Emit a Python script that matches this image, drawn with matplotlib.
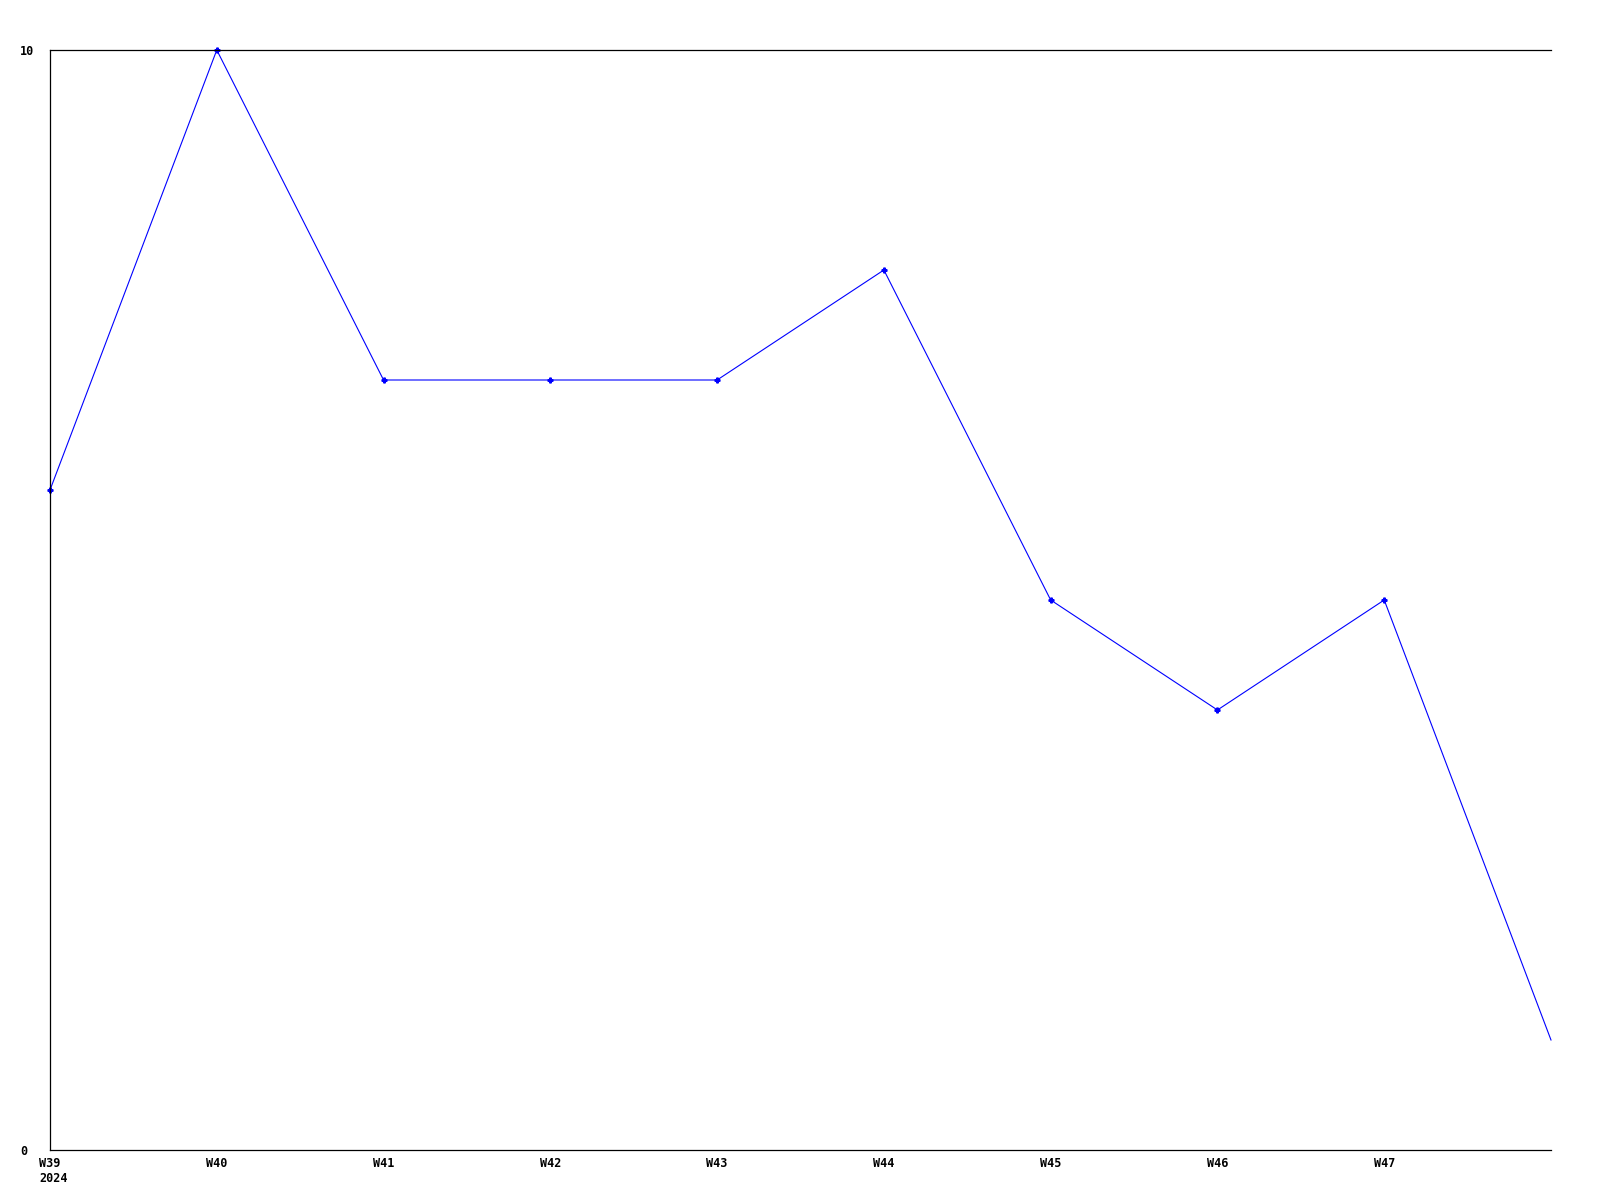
import matplotlib
matplotlib.use("Agg")
import matplotlib.pyplot as plt
from matplotlib.transforms import offset_copy

weeks = ["W39", "W40", "W41", "W42", "W43", "W44", "W45", "W46", "W47", "W48"]
values = [6, 10, 7, 7, 7, 8, 5, 4, 5, 1]
tick_labels = ["W39", "W40", "W41", "W42", "W43", "W44", "W45", "W46", "W47"]
year_label = "2024"

fig = plt.figure(figsize=(16, 12), dpi=100)
ax = fig.add_axes([50/1600, 1 - 1150/1200, 1501/1600, 1100/1200])

x = list(range(len(values)))
ax.plot(x, values, color="#0000ff", lw=0.8, marker="P", markersize=3.5,
        markevery=list(range(len(values) - 1)), clip_on=False)

ax.set_xlim(0, len(values) - 1)
ax.set_ylim(0, 10)
ax.set_yticks([0, 10])
ax.set_yticklabels(["0", "10"])
ax.set_xticks(range(len(tick_labels)))
ax.set_xticklabels(tick_labels)

font = dict(family="DejaVu Sans Mono", weight="bold", size=8.5)
for lab in ax.get_xticklabels() + ax.get_yticklabels():
    lab.set_fontfamily(font["family"])
    lab.set_fontweight(font["weight"])
    lab.set_fontsize(font["size"])
for lab in ax.get_yticklabels():
    lab.set_horizontalalignment("left")
ax.tick_params(axis="both", length=0)
ax.tick_params(axis="y", pad=21.5)
ax.tick_params(axis="x", pad=5)

for s in ["left", "top", "bottom"]:
    ax.spines[s].set_linewidth(0.9)
ax.spines["right"].set_visible(False)

trans = offset_copy(ax.get_xaxis_transform(), fig=fig, x=-8, y=-15.5, units="points")
ax.text(0, 0, year_label, transform=trans, ha="left", va="top", **font)

fig.savefig("out.png", dpi=100)
